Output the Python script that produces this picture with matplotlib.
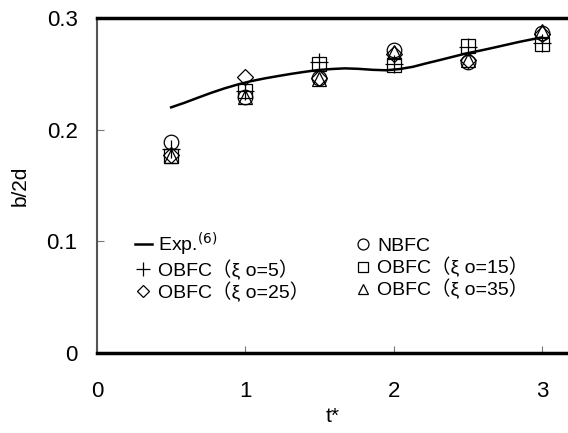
import matplotlib
matplotlib.use('Agg')
import matplotlib.pyplot as plt

plt.rcParams['font.family'] = ['Liberation Sans', 'Noto Sans CJK JP', 'DejaVu Sans']

# dados
t_pts = [0.5, 1.0, 1.5, 2.0, 2.5, 3.0]
nbfc = [0.189, 0.229, 0.246, 0.271, 0.261, 0.287]
obfc5 = [0.183, 0.235, 0.261, 0.259, 0.274, 0.278]
obfc15 = [0.176, 0.235, 0.259, 0.258, 0.275, 0.277]
obfc25 = [0.177, 0.247, 0.246, 0.268, 0.262, 0.286]
obfc35 = [0.176, 0.229, 0.245, 0.270, 0.262, 0.288]

t_exp = [0.50, 0.59, 0.68, 0.77, 0.86, 0.95, 1.04, 1.13, 1.22, 1.31, 1.40,
         1.49, 1.58, 1.67, 1.76, 1.86, 1.95, 2.04, 2.13, 2.22, 2.31, 2.40,
         2.49, 2.58, 2.67, 2.76, 2.85, 2.94, 3.00]
b_exp = [0.2200, 0.2241, 0.2286, 0.2330, 0.2370, 0.2405, 0.2435, 0.2459,
         0.2480, 0.2500, 0.2518, 0.2534, 0.2543, 0.2549, 0.2545, 0.2536,
         0.2532, 0.2543, 0.2563, 0.2594, 0.2623, 0.2653, 0.2683, 0.2707,
         0.2733, 0.2760, 0.2787, 0.2811, 0.2826]

fig = plt.figure(figsize=(5.68, 4.33), dpi=100)
ax = fig.add_axes([0.1708, 0.1848, 0.8292, 0.7736])

ms = 10.5
mk = dict(linestyle='', markerfacecolor='none', markeredgecolor='black',
          markeredgewidth=0.9, markersize=ms, clip_on=False)

ax.plot(t_exp, b_exp, color='black', linewidth=1.8, label=r'Exp.$^{(6)}$',
        solid_joinstyle='round')
ax.plot(t_pts, obfc5, marker='+', markersize=ms + 2, linestyle='', color='black',
        markeredgewidth=0.9, label='OBFC（ξ o=5）', clip_on=False)
ax.plot(t_pts, obfc25, marker='D', label='OBFC（ξ o=25）', **{**mk, 'markersize': ms - 2})
ax.plot(t_pts, nbfc, marker='o', label='NBFC', **mk)
ax.plot(t_pts, obfc15, marker='s', label='OBFC（ξ o=15）', **{**mk, 'markersize': ms - 1})
ax.plot(t_pts, obfc35, marker='^', label='OBFC（ξ o=35）', **mk)

ax.set_xlim(0, 3.176)
ax.set_ylim(0, 0.3)
ax.set_xticks([0, 1, 2, 3])
ax.set_xticklabels(['0', '1', '2', '3'])
ax.set_yticks([0, 0.1, 0.2, 0.3])
ax.set_yticklabels(['0', '0.1', '0.2', '0.3'])

ax.spines['right'].set_visible(False)
ax.spines['top'].set_linewidth(2.5)
ax.spines['bottom'].set_linewidth(2.5)
ax.spines['left'].set_linewidth(1.5)
ax.spines['left'].set_color('#555555')
ax.tick_params(axis='both', direction='in', length=5, width=0.8,
               colors='#777777', labelcolor='black', labelsize=16)
ax.tick_params(axis='x', pad=20)
ax.tick_params(axis='y', pad=14)

ax.set_xlabel('t*', fontsize=15, labelpad=4)
ax.set_ylabel('b/2d', fontsize=15, labelpad=12)

# legenda
handles, labels = ax.get_legend_handles_labels()
ax.legend(handles, labels,
          ncol=2, frameon=False, fontsize=14, loc='lower left',
          bbox_to_anchor=(0.055, 0.117), handlelength=0.9, handletextpad=0.3,
          columnspacing=2.3, labelspacing=0.1, markerscale=0.75,
          borderaxespad=0.2)

fig.savefig('out.png', dpi=100)
